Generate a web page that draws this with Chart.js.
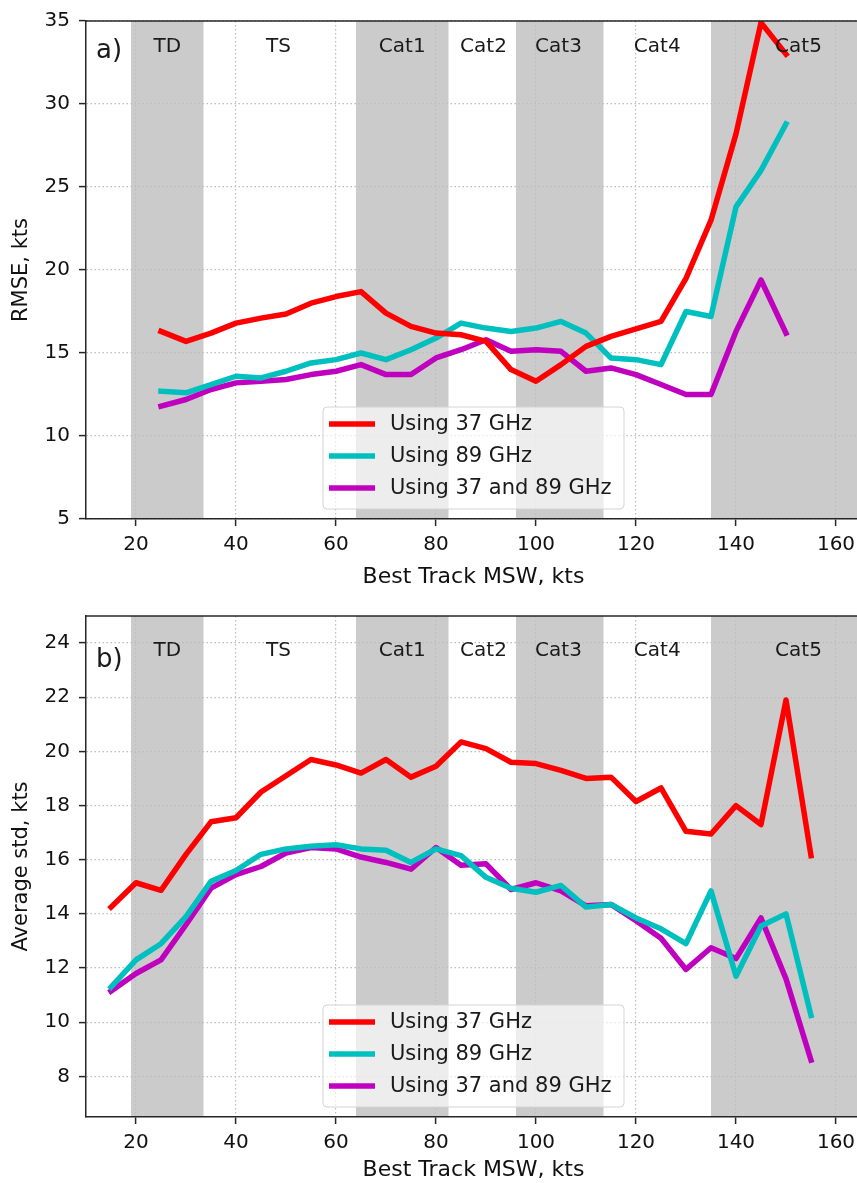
<!DOCTYPE html>
<html>
<head>
<meta charset="utf-8">
<script src="https://cdn.jsdelivr.net/npm/chart.js@4.4.0/dist/chart.umd.min.js"></script>
<style>
  html, body { margin: 0; padding: 0; background: #fff; overflow: hidden; width: 857px; height: 1183px; }
  .panel { position: absolute; left: 0; }
  #top { top: 0; }
  #bottom { top: 595px; }
</style>
</head>
<body>
<div class="panel" id="top"><canvas id="rmseChart" width="880" height="595"></canvas></div>
<div class="panel" id="bottom"><canvas id="stdChart" width="880" height="588"></canvas></div>
<script>
// best track wind bins (kts)
const rmseMsw = [25, 30, 35, 40, 45, 50, 55, 60, 65, 70, 75, 80, 85, 90, 95, 100, 105, 110, 115, 120, 125, 130, 135, 140, 145, 150];
const stdMsw = [15, 20, 25, 30, 35, 40, 45, 50, 55, 60, 65, 70, 75, 80, 85, 90, 95, 100, 105, 110, 115, 120, 125, 130, 135, 140, 145, 150, 155];

// a) RMSE
const rmse37 = [16.3, 15.7, 16.2, 16.8, 17.1, 17.35, 18.0, 18.4, 18.7, 17.4, 16.6, 16.2, 16.1, 15.7, 14.0, 13.3, 14.3, 15.4, 16.0, 16.45, 16.9, 19.5, 23.0, 28.2, 34.9, 33.0];
const rmse89 = [12.7, 12.6, 13.1, 13.6, 13.5, 13.9, 14.4, 14.6, 15.0, 14.6, 15.2, 15.9, 16.8, 16.5, 16.3, 16.5, 16.9, 16.2, 14.7, 14.6, 14.3, 17.5, 17.2, 23.8, 26.0, 28.8];
const rmseBoth = [11.8, 12.2, 12.8, 13.2, 13.3, 13.4, 13.7, 13.9, 14.3, 13.7, 13.7, 14.7, 15.2, 15.8, 15.1, 15.2, 15.1, 13.9, 14.1, 13.7, 13.1, 12.5, 12.5, 16.3, 19.4, 16.2];

// b) average std
const std37 = [14.25, 15.15, 14.87, 16.2, 17.4, 17.55, 18.5, 19.1, 19.7, 19.5, 19.2, 19.7, 19.05, 19.45, 20.35, 20.1, 19.6, 19.55, 19.3, 19.0, 19.05, 18.15, 18.65, 17.05, 16.95, 18.0, 17.3, 21.9, 16.15];
const std89 = [11.3, 12.3, 12.9, 13.9, 15.2, 15.6, 16.2, 16.4, 16.5, 16.55, 16.4, 16.35, 15.9, 16.4, 16.15, 15.35, 14.95, 14.8, 15.05, 14.25, 14.35, 13.85, 13.45, 12.9, 14.85, 11.7, 13.55, 14.0, 10.25];
const stdBoth = [11.15, 11.8, 12.3, 13.6, 14.95, 15.45, 15.75, 16.25, 16.45, 16.4, 16.1, 15.9, 15.65, 16.45, 15.8, 15.85, 14.9, 15.15, 14.85, 14.3, 14.35, 13.75, 13.1, 11.95, 12.75, 12.35, 13.85, 11.6, 8.6];

const seriesLabels = ['Using 37 GHz', 'Using 89 GHz', 'Using 37 and 89 GHz'];
const seriesColors = ['#ff0000', '#00bfbf', '#bf00bf'];

// storm category shading and labels
const bandStart = [19, 64, 96, 135];
const bandEnd = [33.5, 82.5, 113.5, 170];
const catNames = ['TD', 'TS', 'Cat1', 'Cat2', 'Cat3', 'Cat4', 'Cat5'];
const catCenters = [26.25, 48.5, 73.25, 89.5, 104.5, 124.25, 152.5];

const xTicks = [20, 40, 60, 80, 100, 120, 140, 160];
const rmseTicks = [5, 10, 15, 20, 25, 30, 35];
const stdTicks = [8, 10, 12, 14, 16, 18, 20, 22, 24];

const FONT = "'DejaVu Sans', sans-serif";
Chart.defaults.font.family = FONT;
Chart.defaults.color = '#111';

function toPoints(xs, ys) {
    return xs.map((x, i) => ({ x: x, y: ys[i] }));
}

// grey category bands behind everything
const bandPlugin = {
    id: 'bands',
    beforeDraw(chart) {
        const { ctx, chartArea: a, scales: { x } } = chart;
        ctx.save();
        ctx.beginPath();
        ctx.rect(a.left, a.top, a.width, a.height);
        ctx.clip();
        ctx.fillStyle = '#cbcbcb';
        bandStart.forEach((s, i) => {
            const x0 = x.getPixelForValue(s);
            const x1 = x.getPixelForValue(bandEnd[i]);
            ctx.fillRect(x0, a.top, x1 - x0, a.height);
        });
        ctx.restore();
    }
};

// category names, panel letter, legend box and top spine
const overlayPlugin = {
    id: 'overlay',
    afterDraw(chart, args, opts) {
        const { ctx, chartArea: a, scales: { x } } = chart;
        ctx.save();

        ctx.strokeStyle = '#262626';
        ctx.lineWidth = 1.5;
        ctx.beginPath();
        ctx.moveTo(a.left, a.top);
        ctx.lineTo(a.right, a.top);
        ctx.stroke();

        ctx.fillStyle = '#1a1a1a';
        ctx.textAlign = 'center';
        ctx.textBaseline = 'middle';
        ctx.font = '20px ' + FONT;
        catNames.forEach((name, i) => {
            ctx.fillText(name, x.getPixelForValue(catCenters[i]), a.top + opts.catOffset);
        });

        ctx.textAlign = 'left';
        ctx.font = '26px ' + FONT;
        ctx.fillText(opts.letter, a.left + 10, a.top + opts.letterOffset);

        // legend, lower centre
        const w = 301, h = 102;
        const bx = (a.left + a.right) / 2 - w / 2;
        const by = a.bottom - 10 - h;
        ctx.fillStyle = 'rgba(255,255,255,0.65)';
        ctx.strokeStyle = '#d4d4d4';
        ctx.lineWidth = 1;
        ctx.beginPath();
        ctx.roundRect(bx, by, w, h, 4);
        ctx.fill();
        ctx.stroke();

        ctx.font = '21px ' + FONT;
        chart.data.datasets.forEach((ds, i) => {
            const ry = by + 17 + i * 32;
            ctx.strokeStyle = ds.borderColor;
            ctx.lineWidth = 5.5;
            ctx.beginPath();
            ctx.moveTo(bx + 6, ry);
            ctx.lineTo(bx + 52, ry);
            ctx.stroke();
            ctx.fillStyle = '#1a1a1a';
            ctx.fillText(ds.label, bx + 67, ry + 1);
        });
        ctx.restore();
    }
};

function makePanel(id, xs, series, yMin, yMax, yTicks, yTitle, panel) {
    const datasets = series.map((ys, i) => ({
        label: seriesLabels[i],
        data: toPoints(xs, ys),
        borderColor: seriesColors[i],
        borderWidth: 5.5,
        pointRadius: 0,
        fill: false,
        tension: 0,
        borderJoinStyle: 'round',
        borderCapStyle: 'square'
    }));

    const gridOpts = {
        color: '#bdbdbd',
        lineWidth: 1.2,
        tickColor: '#262626',
        tickLength: 7,
        tickWidth: 1.5,
        tickBorderDash: []
    };
    const borderOpts = { color: '#262626', width: 1.5, dash: [1.5, 2.5] };

    return new Chart(document.getElementById(id), {
        type: 'line',
        data: { datasets: datasets },
        options: {
            responsive: false,
            animation: false,
            devicePixelRatio: 1,
            layout: { padding: { top: panel.padTop, right: 19, left: 0, bottom: 0 } },
            plugins: {
                legend: { display: false },
                tooltip: { enabled: false },
                overlay: panel
            },
            scales: {
                x: {
                    type: 'linear',
                    min: 10,
                    max: 165,
                    grid: gridOpts,
                    border: borderOpts,
                    ticks: { font: { size: 20 }, padding: 7, maxRotation: 0, autoSkip: false, color: '#111' },
                    afterBuildTicks: s => { s.ticks = xTicks.map(v => ({ value: v })); },
                    afterFit: s => { s.height = panel.xAxisHeight; },
                    title: { display: true, text: 'Best Track MSW, kts', font: { size: 22 }, color: '#111', padding: { top: 0, bottom: panel.titlePad } }
                },
                y: {
                    min: yMin,
                    max: yMax,
                    grid: gridOpts,
                    border: borderOpts,
                    ticks: { font: { size: 20 }, padding: 9, color: '#111' },
                    afterBuildTicks: s => { s.ticks = yTicks.map(v => ({ value: v })); },
                    afterFit: s => { s.width = 86; },
                    title: { display: true, text: yTitle, font: { size: 21 }, color: '#111', padding: { top: 9, bottom: 0 } }
                }
            }
        },
        plugins: [bandPlugin, overlayPlugin]
    });
}

makePanel('rmseChart', rmseMsw, [rmse37, rmse89, rmseBoth], 5, 35, rmseTicks, 'RMSE, kts',
    { letter: 'a)', letterOffset: 30, catOffset: 26, padTop: 17, xAxisHeight: 76, titlePad: 5 });

makePanel('stdChart', stdMsw, [std37, std89, stdBoth], 6.5, 25, stdTicks, 'Average std, kts',
    { letter: 'b)', letterOffset: 44, catOffset: 35, padTop: 18, xAxisHeight: 66, titlePad: 0 });
</script>
</body>
</html>
